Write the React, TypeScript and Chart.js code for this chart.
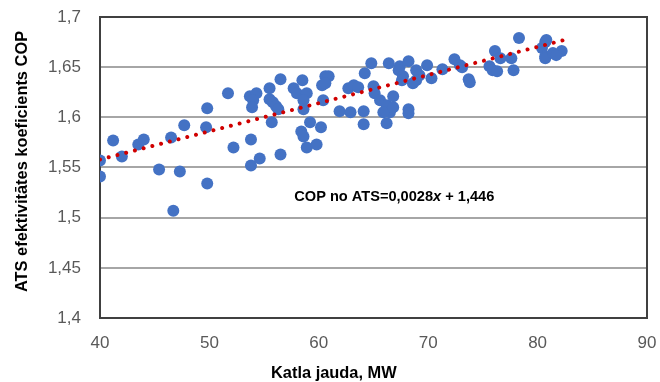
import React, { useEffect, useRef } from "react";
import { Chart, registerables } from "chart.js";

Chart.register(...registerables);

const xValues = [
  40.0, 40.0, 41.2, 42.0, 43.5, 44.0, 45.4, 46.5, 46.7, 47.3, 47.7, 49.8, 49.7, 49.8,
  51.7, 52.2, 53.8, 53.8, 54.6, 53.7, 54.3, 54.0, 53.9, 55.5, 55.5, 55.8, 56.1, 55.7,
  56.3, 56.5, 56.5, 57.7, 58.0, 58.9, 58.6, 58.6, 58.5, 59.2, 58.4, 58.6, 60.2, 58.9,
  59.8, 60.3, 60.6, 60.9, 60.6, 60.4, 61.9, 62.9, 64.1, 64.1, 62.7, 63.2, 63.6, 64.2,
  64.8, 65.0, 65.1, 65.6, 66.2, 66.5, 65.9, 66.8, 66.8, 66.2, 66.4, 67.4, 67.3, 68.2,
  68.2, 68.2, 67.7, 67.6, 68.9, 69.2, 68.9, 69.9, 68.6, 70.3, 71.3, 72.4, 72.9, 73.1,
  73.7, 73.8, 75.6, 75.9, 76.3, 76.1, 76.6, 77.6, 77.8, 78.3, 80.4, 80.7, 80.7, 80.8,
  80.7, 81.4, 82.2, 81.7,
];
const copValues = [
  1.557, 1.541, 1.577, 1.561, 1.573, 1.578, 1.548, 1.58, 1.507, 1.546, 1.592, 1.609, 1.59, 1.534,
  1.624, 1.57, 1.578, 1.552, 1.559, 1.621, 1.624, 1.617, 1.61, 1.629, 1.618, 1.615, 1.611, 1.595,
  1.608, 1.638, 1.563, 1.629, 1.624, 1.624, 1.617, 1.608, 1.637, 1.595, 1.586, 1.581, 1.59, 1.57,
  1.573, 1.632, 1.641, 1.641, 1.634, 1.617, 1.606, 1.605, 1.606, 1.593, 1.629, 1.632, 1.63, 1.644,
  1.654, 1.631, 1.624, 1.617, 1.612, 1.605, 1.605, 1.621, 1.61, 1.594, 1.654, 1.651, 1.647, 1.656,
  1.608, 1.604, 1.641, 1.637, 1.647, 1.642, 1.637, 1.652, 1.634, 1.639, 1.648, 1.658, 1.652, 1.65,
  1.638, 1.635, 1.651, 1.647, 1.646, 1.666, 1.659, 1.659, 1.647, 1.679, 1.669, 1.675, 1.661, 1.677,
  1.659, 1.664, 1.666, 1.662,
];
const trendX = [40, 82.4];
const trendY = [1.558, 1.677];
const xTicks = [40, 50, 60, 70, 80, 90];
const yTicks = [1.4, 1.45, 1.5, 1.55, 1.6, 1.65, 1.7];

const yTitle = "ATS efektivitātes koeficients COP";
const xTitle = "Katla jauda, MW";
const eqMain = "COP no ATS=0,0028";
const eqVar = "x";
const eqTail = " + 1,446";
const eqPos = { x: 66.9, y: 1.521 };

const fmt = (v: number) => String(Math.round(v * 100) / 100).replace(".", ",");

export default function App() {
  const ref = useRef<HTMLCanvasElement | null>(null);
  useEffect(() => {
    document.body.style.margin = "0";
    const canvas = ref.current;
    if (!canvas) return;
    const decor = {
      id: "decor",
      beforeDatasetsDraw(chart: any) {
        const { ctx, chartArea: a } = chart;
        ctx.save();
        ctx.strokeStyle = "#404040";
        ctx.lineWidth = 2;
        ctx.strokeRect(a.left, a.top, a.right - a.left, a.bottom - a.top);
        ctx.restore();
      },
      afterDraw(chart: any) {
        const { ctx, chartArea: a, scales } = chart;
        ctx.save();
        ctx.fillStyle = "#000";
        ctx.font = "bold 16.4px 'Liberation Sans', Arial, sans-serif";
        ctx.textAlign = "center";
        ctx.textBaseline = "middle";
        ctx.translate(22, (a.top + a.bottom) / 2 - 6);
        ctx.rotate(-Math.PI / 2);
        ctx.fillText(yTitle, 0, 0);
        ctx.restore();

        ctx.save();
        ctx.fillStyle = "#000";
        ctx.font = "bold 16.4px 'Liberation Sans', Arial, sans-serif";
        ctx.textAlign = "left";
        ctx.textBaseline = "middle";
        ctx.fillText(xTitle, 271, 373);
        ctx.restore();

        ctx.save();
        ctx.fillStyle = "#000";
        ctx.textBaseline = "middle";
        const bold = "bold 14.6px 'Liberation Sans', Arial, sans-serif";
        const ital = "italic bold 14.6px 'Liberation Sans', Arial, sans-serif";
        ctx.font = bold;
        const w1 = ctx.measureText(eqMain).width;
        const w3 = ctx.measureText(eqTail).width;
        ctx.font = ital;
        const w2 = ctx.measureText(eqVar).width;
        const cx = scales.x.getPixelForValue(eqPos.x);
        const cy = scales.y.getPixelForValue(eqPos.y);
        let x0 = cx - (w1 + w2 + w3) / 2;
        ctx.textAlign = "left";
        ctx.font = bold;
        ctx.fillText(eqMain, x0, cy);
        x0 += w1;
        ctx.font = ital;
        ctx.fillText(eqVar, x0, cy);
        x0 += w2;
        ctx.font = bold;
        ctx.fillText(eqTail, x0, cy);
        ctx.restore();
      },
    };
    const chart = new Chart(canvas, {
      type: "scatter",
      data: {
        datasets: [
          {
            type: "line",
            data: trendX.map((x, i) => ({ x, y: trendY[i] })),
            borderColor: "#d00000",
            borderWidth: 4,
            borderDash: [0.01, 9],
            borderCapStyle: "round",
            pointRadius: 0,
            fill: false,
          } as any,
          {
            data: xValues.map((x, i) => ({ x, y: copValues[i] })),
            backgroundColor: "#4472c4",
            borderColor: "#4472c4",
            pointRadius: 6,
            borderWidth: 0,
          },
        ],
      },
      options: {
        responsive: false,
        animation: false,
        events: [],
        layout: { padding: { top: 17, right: 13, left: 0, bottom: 0 } },
        plugins: { legend: { display: false }, tooltip: { enabled: false } },
        scales: {
          x: {
            type: "linear",
            min: 40,
            max: 90,
            afterFit: (s: any) => {
              s.height = 64;
              s.paddingLeft = 0;
              s.paddingRight = 0;
            },
            afterBuildTicks: (s: any) => {
              s.ticks = xTicks.map((v) => ({ value: v }));
            },
            grid: { display: false, drawTicks: false },
            border: { display: false },
            ticks: {
              padding: 15,
              color: "#595959",
              font: { size: 17, family: "'Liberation Sans', Arial, sans-serif" },
              callback: (v: any) => String(v),
            },
          },
          y: {
            min: 1.4,
            max: 1.7,
            afterFit: (s: any) => {
              s.width = 100;
              s.paddingTop = 0;
              s.paddingBottom = 0;
            },
            afterBuildTicks: (s: any) => {
              s.ticks = yTicks.map((v) => ({ value: v }));
            },
            grid: { color: "#a6a6a6", lineWidth: 2, drawTicks: false },
            border: { display: false },
            ticks: {
              padding: 19,
              color: "#595959",
              font: { size: 17, family: "'Liberation Sans', Arial, sans-serif" },
              callback: (v: any) => fmt(Number(v)),
            },
          },
        },
      },
      plugins: [decor],
    });
    return () => chart.destroy();
  }, []);
  return (
    <div style={{ width: 660, height: 382 }}>
      <canvas ref={ref} width={660} height={382} style={{ display: "block" }} />
    </div>
  );
}
